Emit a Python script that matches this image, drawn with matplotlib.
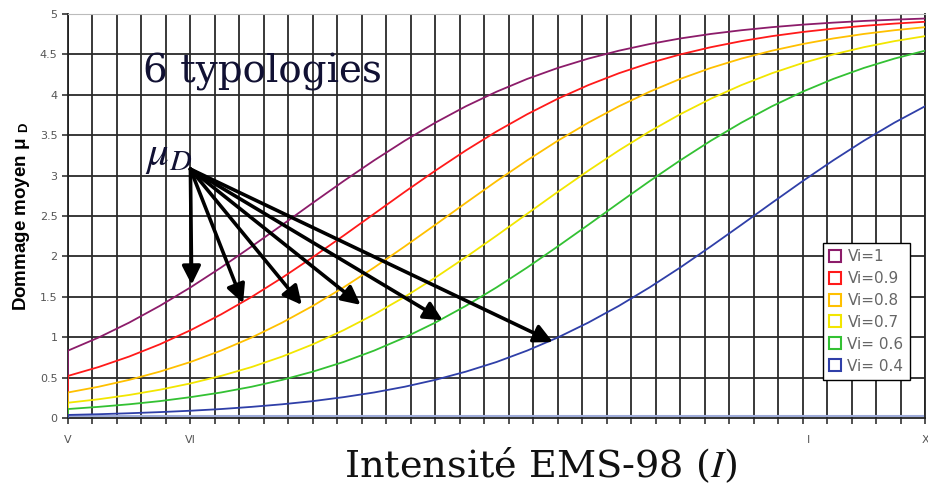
import numpy as np
import matplotlib
matplotlib.use('Agg')
import matplotlib.pyplot as plt
from matplotlib.lines import Line2D

plt.rcParams['mathtext.fontset'] = 'stix'

# intensité EMS-98 (5 = V ... 12)
intensite = [5.0, 5.25, 5.5, 5.75, 6.0, 6.25, 6.5, 6.75, 7.0, 7.25, 7.5, 7.75, 8.0, 8.25, 8.5,
             8.75, 9.0, 9.25, 9.5, 9.75, 10.0, 10.25, 10.5, 10.75, 11.0, 11.25, 11.5, 11.75, 12.0]

mu_v10 = [0.834, 0.996, 1.181, 1.388, 1.616, 1.862, 2.123, 2.391, 2.663, 2.931, 3.188, 3.431, 3.655, 3.858, 4.038,
          4.196, 4.332, 4.448, 4.546, 4.628, 4.697, 4.753, 4.799, 4.837, 4.868, 4.893, 4.914, 4.930, 4.944]
mu_v09 = [0.521, 0.631, 0.761, 0.912, 1.086, 1.282, 1.499, 1.737, 1.991, 2.256, 2.527, 2.798, 3.061, 3.312, 3.546,
          3.759, 3.951, 4.120, 4.267, 4.393, 4.499, 4.589, 4.664, 4.726, 4.777, 4.819, 4.853, 4.881, 4.904]
mu_v08 = [0.316, 0.387, 0.472, 0.574, 0.693, 0.834, 0.996, 1.181, 1.388, 1.616, 1.862, 2.123, 2.391, 2.663, 2.931,
          3.188, 3.431, 3.655, 3.858, 4.038, 4.196, 4.332, 4.448, 4.546, 4.628, 4.697, 4.753, 4.799, 4.837]
mu_v07 = [0.189, 0.232, 0.285, 0.350, 0.428, 0.521, 0.631, 0.761, 0.912, 1.086, 1.282, 1.499, 1.737, 1.991, 2.256,
          2.527, 2.798, 3.061, 3.312, 3.546, 3.759, 3.951, 4.120, 4.267, 4.393, 4.499, 4.589, 4.664, 4.726]
mu_v06 = [0.111, 0.138, 0.170, 0.209, 0.258, 0.316, 0.387, 0.472, 0.574, 0.693, 0.834, 0.996, 1.181, 1.388, 1.616,
          1.862, 2.123, 2.391, 2.663, 2.931, 3.188, 3.431, 3.655, 3.858, 4.038, 4.196, 4.332, 4.448, 4.546]
mu_v04 = [0.038, 0.047, 0.059, 0.073, 0.090, 0.111, 0.138, 0.170, 0.209, 0.258, 0.316, 0.387, 0.472, 0.574, 0.693,
          0.834, 0.996, 1.181, 1.388, 1.616, 1.862, 2.123, 2.391, 2.663, 2.931, 3.188, 3.431, 3.655, 3.858]

series = [mu_v10, mu_v09, mu_v08, mu_v07, mu_v06, mu_v04]
labels = ['Vi=1', 'Vi=0.9', 'Vi=0.8', 'Vi=0.7', 'Vi= 0.6', 'Vi= 0.4']
couleurs = ['#8c1c6a', '#ff1a1a', '#ffc000', '#f2e600', '#33c133', '#2f3fa8']

# ticks de l'axe des x
xtick_pos = [5, 6, 11.05, 12]
xtick_lab = ['V', 'VI', 'I', 'X']

# fleches vers mu_D : origine et pointes (intensite, mu)
fleche_origine = (6.0, 3.08)
fleche_pointes = [(6.01, 1.65), (6.43, 1.42), (6.91, 1.40), (7.39, 1.40), (8.06, 1.21), (8.96, 0.94)]

fig = plt.figure(figsize=(9.29, 4.86), dpi=100)
ax = fig.add_axes([0.0732, 0.1399, 0.9225, 0.8313])
ax.set_xlim(5, 12)
ax.set_ylim(0, 5)

# grille
for x in np.arange(5, 12.001, 0.2):
    ax.axvline(x, color='#2a2a2a', lw=1.3, zorder=1)
for y in np.arange(0.5, 5.0, 0.5):
    ax.axhline(y, color='#2a2a2a', lw=1.3, zorder=1)

ax.axhline(0.02, color='#9eabd9', lw=1.5, zorder=2)

for vals, c in zip(series, couleurs):
    ax.plot(intensite, vals, color=c, lw=1.3, zorder=3)
    ax.vlines(intensite[0], 0, vals[0], color=c, lw=1.3, zorder=3)

# fleches
for tip in fleche_pointes:
    ax.annotate('', xy=tip, xytext=fleche_origine,
                arrowprops=dict(arrowstyle='-|>', color='black', lw=2.6,
                                mutation_scale=28, shrinkA=0, shrinkB=0),
                zorder=5)

ax.text(5.61, 4.28, '6 typologies', fontsize=28, family='DejaVu Serif',
        color='#111133', va='center', ha='left', zorder=6)
ax.text(5.63, 3.26, r'$\mu_D$', fontsize=31, color='#111133', va='center', ha='left', zorder=6)

# ticks
ax.xaxis.remove_overlapping_locs = False
ax.set_yticks(np.arange(0, 5.01, 0.5))
ax.set_yticklabels(['0', '0.5', '1', '1.5', '2', '2.5', '3', '3.5', '4', '4.5', '5'])
ax.set_xticks(np.arange(5, 12.001, 0.2))
ax.set_xticklabels([])
ax.set_xticks(xtick_pos, minor=True)
ax.set_xticklabels(xtick_lab, minor=True)
ax.tick_params(axis='x', which='major', length=4, width=1.2, color='#333333')
ax.tick_params(axis='x', which='minor', length=0, pad=12, labelsize=8, labelcolor='#555555')
ax.tick_params(axis='y', length=4, width=1.2, color='#333333', labelsize=8, labelcolor='#555555')

for s in ['left', 'bottom', 'right']:
    ax.spines[s].set_color('#222222')
    ax.spines[s].set_linewidth(1.3)
ax.spines['top'].set_color('#bbbbbb')

ax.set_ylabel(r'Dommage moyen μ $_\mathregular{D}$', fontsize=13.5, fontweight='bold',
              family='Liberation Sans', labelpad=2)
ax.yaxis.set_label_coords(-0.042, 0.5)

fig.text(0.582, 0.043, r'Intensité EMS-98 ($I$)', fontsize=27.5, family='DejaVu Serif',
         color='#111111', ha='center', va='center')

handles = [Line2D([], [], marker='s', ls='none', markersize=8, markerfacecolor='white',
                  markeredgecolor=c, markeredgewidth=1.5) for c in couleurs]
leg = ax.legend(handles, labels, loc='upper left', bbox_to_anchor=(0.881, 0.433),
                borderaxespad=0, fontsize=11, labelspacing=0.45, handlelength=0.8,
                handletextpad=0.4, fancybox=False, framealpha=1, edgecolor='black',
                borderpad=0.4)
leg.get_frame().set_linewidth(1.0)
for t in leg.get_texts():
    t.set_color('#666666')
leg.set_zorder(10)

fig.savefig('out.png', dpi=100)
